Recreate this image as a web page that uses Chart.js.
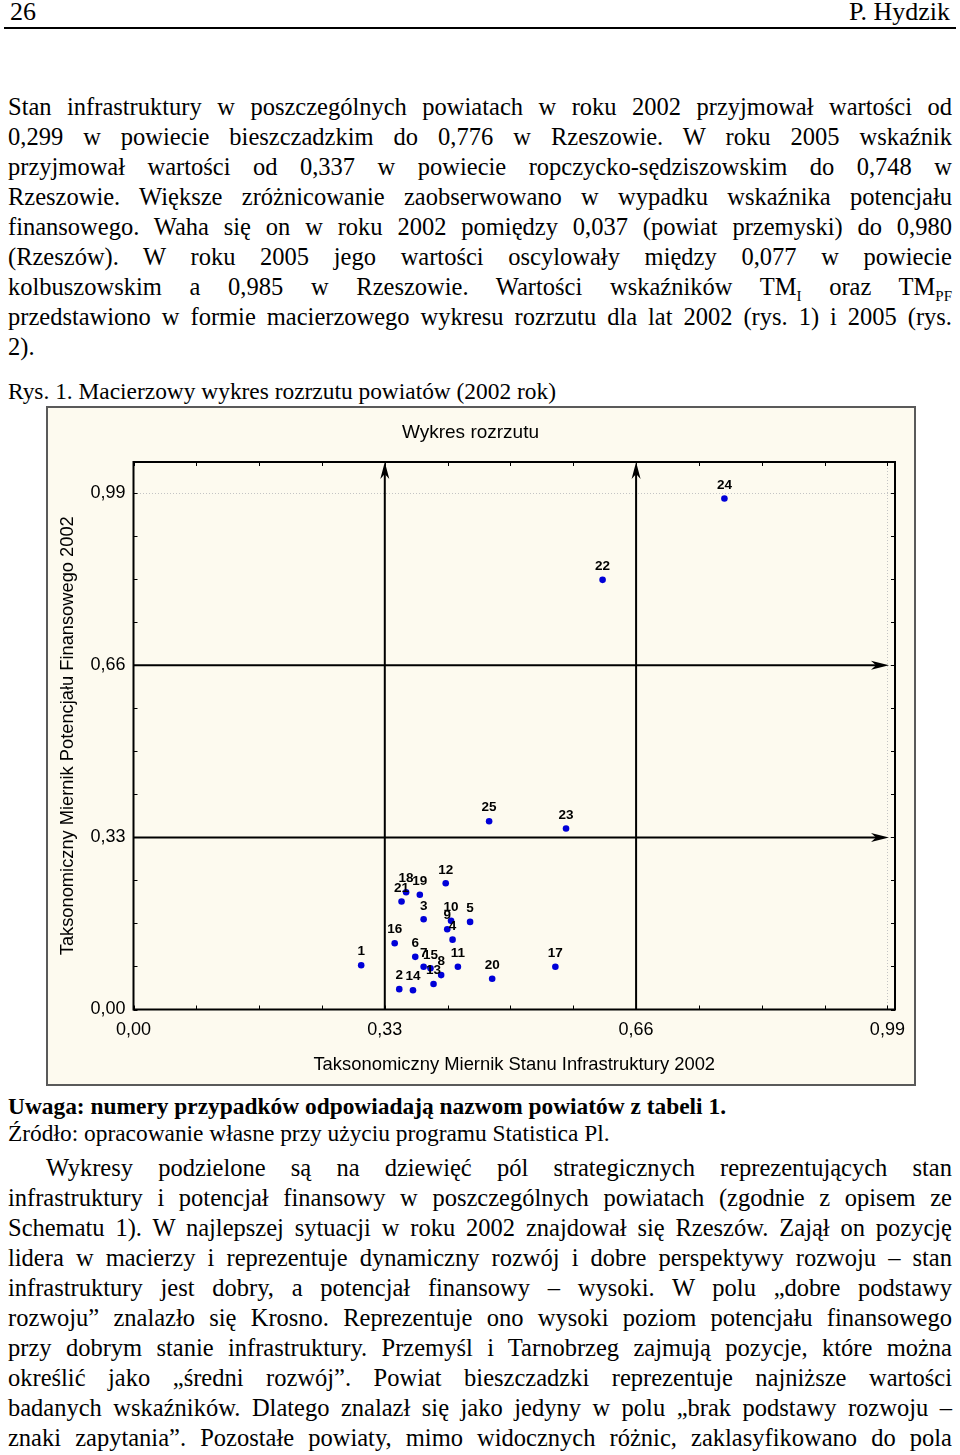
<!DOCTYPE html>
<html lang="pl">
<head>
<meta charset="utf-8">
<script src="https://cdn.jsdelivr.net/npm/chart.js@4.4.0/dist/chart.umd.min.js"></script>
<style>
  body { margin: 0; width: 960px; height: 1455px; position: relative; overflow: hidden; background: #fff; color: #000;
         font-family: "Liberation Serif", "Times New Roman", serif; }
  .abs { position: absolute; }
  .head { top: -3px; font-size: 26px; line-height: 30px; }
  .rule { left: 4px; width: 952px; top: 27px; border-top: 2px solid #000; }
  .txt { left: 8px; width: 944px; font-size: 24.5px; line-height: 30px; }
  .txt div { text-align: justify; text-align-last: justify; }
  .txt div.end { text-align-last: left; }
  .txt sub { font-size: 15px; line-height: 0; }
  .cap { left: 8px; font-size: 23.4px; }
  #box { left: 46px; top: 406px; width: 870px; height: 680px; background: #fdfaef; box-shadow: inset 0 0 0 2px #5a5a5a; }
</style>
</head>
<body>
<div class="abs head" style="left:10px">26</div>
<div class="abs head" style="right:10px">P. Hydzik</div>
<div class="abs rule"></div>

<div class="abs txt" style="top:92px">
  <div>Stan infrastruktury w poszczególnych powiatach w roku 2002 przyjmował wartości od</div>
  <div>0,299 w powiecie bieszczadzkim do 0,776 w Rzeszowie. W roku 2005 wskaźnik</div>
  <div>przyjmował wartości od 0,337 w powiecie ropczycko-sędziszowskim do 0,748 w</div>
  <div>Rzeszowie. Większe zróżnicowanie zaobserwowano w wypadku wskaźnika potencjału</div>
  <div>finansowego. Waha się on w roku 2002 pomiędzy 0,037 (powiat przemyski) do 0,980</div>
  <div>(Rzeszów). W roku 2005 jego wartości oscylowały między 0,077 w powiecie</div>
  <div>kolbuszowskim a 0,985 w Rzeszowie. Wartości wskaźników TM<sub>I</sub> oraz TM<sub>PF</sub></div>
  <div>przedstawiono w formie macierzowego wykresu rozrzutu dla lat 2002 (rys. 1) i 2005 (rys.</div>
  <div class="end">2).</div>
</div>

<div class="abs cap" style="top:376px; line-height:30px">Rys. 1. Macierzowy wykres rozrzutu powiatów (2002 rok)</div>

<div class="abs" id="box"><canvas id="chart" width="870" height="680"></canvas></div>

<div class="abs cap" style="top:1092px; line-height:28px; font-weight:bold">Uwaga: numery przypadków odpowiadają nazwom powiatów z tabeli 1.</div>
<div class="abs cap" style="top:1119px; line-height:28px">Źródło: opracowanie własne przy użyciu programu Statistica Pl.</div>

<div class="abs txt" style="top:1153px">
  <div style="text-indent:38px">Wykresy podzielone są na dziewięć pól strategicznych reprezentujących stan</div>
  <div>infrastruktury i potencjał finansowy w poszczególnych powiatach (zgodnie z opisem ze</div>
  <div>Schematu 1). W najlepszej sytuacji w roku 2002 znajdował się Rzeszów. Zajął on pozycję</div>
  <div>lidera w macierzy i reprezentuje dynamiczny rozwój i dobre perspektywy rozwoju – stan</div>
  <div>infrastruktury jest dobry, a potencjał finansowy – wysoki. W polu „dobre podstawy</div>
  <div>rozwoju” znalazło się Krosno. Reprezentuje ono wysoki poziom potencjału finansowego</div>
  <div>przy dobrym stanie infrastruktury. Przemyśl i Tarnobrzeg zajmują pozycje, które można</div>
  <div>określić jako „średni rozwój”. Powiat bieszczadzki reprezentuje najniższe wartości</div>
  <div>badanych wskaźników. Dlatego znalazł się jako jedyny w polu „brak podstawy rozwoju –</div>
  <div>znaki zapytania”. Pozostałe powiaty, mimo widocznych różnic, zaklasyfikowano do pola</div>
</div>

<script>
// numery powiatów (przypadki)
const caseLabels = ['1','2','3','4','5','6','7','8','9','10','11','12','13',
                    '14','15','16','17','18','19','20','21','22','23','24','25'];
// Taksonomiczny Miernik Stanu Infrastruktury 2002 (oś X)
const tmInfra = [0.299, 0.349, 0.381, 0.419, 0.442, 0.370, 0.381, 0.404, 0.412, 0.417, 0.426, 0.410, 0.394,
                 0.367, 0.390, 0.343, 0.554, 0.358, 0.376, 0.471, 0.352, 0.616, 0.568, 0.776, 0.467];
// Taksonomiczny Miernik Potencjału Finansowego 2002 (oś Y)
const tmFin = [0.085, 0.039, 0.173, 0.134, 0.168, 0.101, 0.082, 0.066, 0.154, 0.170, 0.082, 0.242, 0.049,
               0.037, 0.079, 0.127, 0.082, 0.225, 0.220, 0.059, 0.207, 0.824, 0.347, 0.980, 0.361];

// podziałka osi
const axisTicks = [0, 0.0825, 0.165, 0.2475, 0.33, 0.4125, 0.495, 0.5775, 0.66, 0.7425, 0.825, 0.9075, 0.99];
const majorTicks = [0, 0.33, 0.66, 0.99];
// linie podziału macierzy
const refLines = [0.33, 0.66];

const fmt = v => v.toFixed(2).replace('.', ',');
const isMajor = v => majorTicks.some(m => Math.abs(m - v) < 1e-6);

const matrixPlugin = {
  id: 'matrix',
  beforeDatasetsDraw(chart) {
    const { ctx, chartArea: a, scales: { x, y } } = chart;
    ctx.save();
    ctx.strokeStyle = '#000';
    ctx.fillStyle = '#000';

    // krótkie kreski podziałki do środka wykresu
    ctx.lineWidth = 1;
    ctx.beginPath();
    axisTicks.forEach(v => {
      const px = Math.round(x.getPixelForValue(v)) + 0.5;
      const py = Math.round(y.getPixelForValue(v)) + 0.5;
      ctx.moveTo(px, a.bottom); ctx.lineTo(px, a.bottom - 4);
      ctx.moveTo(px, a.top); ctx.lineTo(px, a.top + 4);
      ctx.moveTo(a.left, py); ctx.lineTo(a.left + 4, py);
      ctx.moveTo(a.right, py); ctx.lineTo(a.right - 4, py);
    });
    ctx.stroke();

    // linie podziału ze strzałkami
    ctx.lineWidth = 2;
    refLines.forEach(v => {
      const px = x.getPixelForValue(v);
      ctx.beginPath();
      ctx.moveTo(px, a.bottom); ctx.lineTo(px, a.top + 10);
      ctx.stroke();
      ctx.beginPath();
      ctx.moveTo(px, a.top);
      ctx.lineTo(px - 4.5, a.top + 17);
      ctx.lineTo(px, a.top + 12);
      ctx.lineTo(px + 4.5, a.top + 17);
      ctx.closePath();
      ctx.fill();

      const py = y.getPixelForValue(v);
      const tip = a.right - 6;
      ctx.beginPath();
      ctx.moveTo(a.left, py); ctx.lineTo(tip - 10, py);
      ctx.stroke();
      ctx.beginPath();
      ctx.moveTo(tip, py);
      ctx.lineTo(tip - 18, py - 4.5);
      ctx.lineTo(tip - 13, py);
      ctx.lineTo(tip - 18, py + 4.5);
      ctx.closePath();
      ctx.fill();
    });

    // ramka obszaru wykresu
    ctx.lineWidth = 2;
    ctx.strokeRect(a.left, a.top, a.width, a.height);
    ctx.restore();
  },
  afterDatasetsDraw(chart) {
    const { ctx } = chart;
    const meta = chart.getDatasetMeta(0);
    ctx.save();
    ctx.font = 'bold 13.5px "Liberation Sans", Arial, sans-serif';
    ctx.fillStyle = '#000';
    ctx.textAlign = 'center';
    ctx.textBaseline = 'middle';
    meta.data.forEach((pt, i) => {
      ctx.fillText(caseLabels[i], pt.x, pt.y - 13.5);
    });
    ctx.restore();
  }
};

Chart.defaults.font.family = '"Liberation Sans", Arial, sans-serif';
Chart.defaults.color = '#000';

const gridColor = c => (c.tick && isMajor(c.tick.value) && c.tick.value > 0) ? '#c4c4c4' : 'rgba(0,0,0,0)';

new Chart(document.getElementById('chart'), {
  type: 'scatter',
  data: {
    datasets: [{
      label: 'Powiaty',
      data: caseLabels.map((l, i) => ({ x: tmInfra[i], y: tmFin[i] })),
      backgroundColor: '#0000d8',
      borderColor: '#0000d8',
      pointRadius: 3.3,
      borderWidth: 0
    }]
  },
  options: {
    responsive: false,
    animation: false,
    layout: { padding: { left: 0, right: 21, top: 0, bottom: 0 } },
    plugins: {
      legend: { display: false },
      tooltip: { enabled: false },
      title: {
        display: true,
        text: 'Wykres rozrzutu',
        font: { size: 19, weight: 'normal' },
        color: '#000',
        padding: { top: 15.6, bottom: 17.6 }
      }
    },
    scales: {
      x: {
        type: 'linear',
        min: 0,
        max: 1.0,
        afterBuildTicks: s => { s.ticks = axisTicks.map(v => ({ value: v })); },
        afterFit: s => { s.height = 76.5; },
        ticks: {
          autoSkip: false,
          maxRotation: 0,
          padding: 10,
          font: { size: 18 },
          callback: v => isMajor(v) ? fmt(v) : ''
        },
        grid: { drawTicks: false, color: gridColor, lineWidth: 1 },
        border: { display: false, dash: [1, 2] },
        title: {
          display: true,
          text: 'Taksonomiczny Miernik Stanu Infrastruktury 2002',
          font: { size: 18.4 },
          padding: { top: 0, bottom: 10.5 }
        }
      },
      y: {
        type: 'linear',
        min: 0,
        max: 1.05,
        afterBuildTicks: s => { s.ticks = axisTicks.map(v => ({ value: v })); },
        afterFit: s => { s.width = 87.5; },
        ticks: {
          autoSkip: false,
          padding: 8,
          font: { size: 18 },
          callback: v => isMajor(v) ? fmt(v) : ''
        },
        grid: { drawTicks: false, color: gridColor, lineWidth: 1 },
        border: { display: false, dash: [1, 2] },
        title: {
          display: true,
          text: 'Taksonomiczny Miernik Potencjału Finansowego 2002',
          font: { size: 18.3 },
          padding: { top: 11, bottom: 0 }
        }
      }
    }
  },
  plugins: [matrixPlugin]
});
</script>
</body>
</html>
